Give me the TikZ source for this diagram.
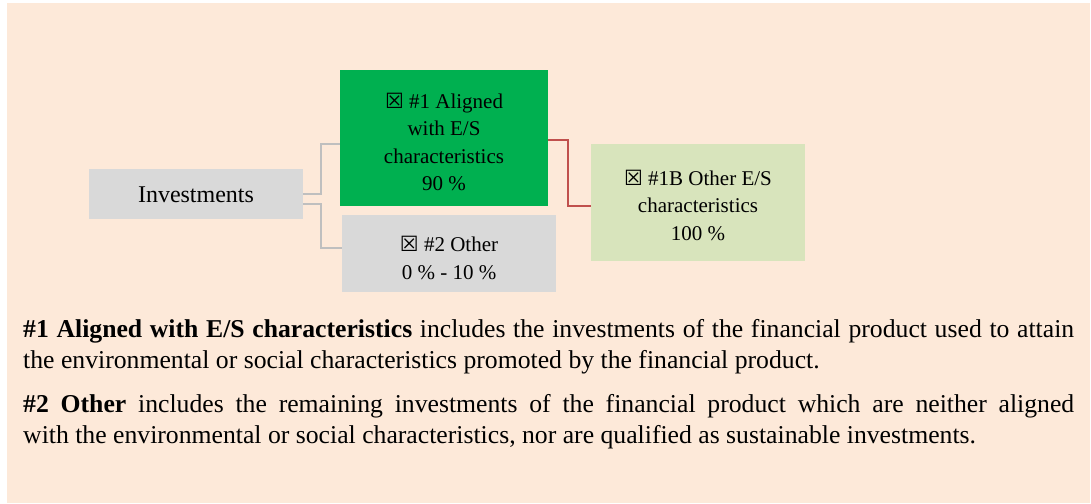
\documentclass[tikz,border=0pt]{standalone}
\usepackage{fontspec}
\setmainfont{Liberation Serif}
\newfontfamily\dvsym{DejaVu Sans}
\definecolor{peach}{HTML}{FDE9D9}
\definecolor{boxgreen}{HTML}{00B050}
\definecolor{boxlight}{HTML}{D8E4BC}
\definecolor{boxgray}{HTML}{D9D9D9}
\definecolor{linegray}{HTML}{BFBFBF}
\definecolor{linered}{HTML}{C0504D}
\newcommand{\xbox}{{\dvsym\char"2612}}
\tikzset{
  catbox/.style={inner sep=0pt, align=center, font=\fontsize{21}{27.5}\selectfont},
  treeline/.style={draw=linegray, line width=1.8pt},
  redline/.style={draw=linered, line width=1.8pt},
}
\begin{document}
\begin{tikzpicture}[x=1pt,y=-1pt]
\useasboundingbox (0,0) rectangle (1091,503);
\fill[peach] (7,3) rectangle (1090,503);
% boxes
\fill[boxgray] (89,169) rectangle (303,219);
\node[catbox, font=\fontsize{24}{28}\selectfont] (inv) at (196,195) {Investments};
\fill[boxgreen] (340,70) rectangle (548,206);
\node[catbox] (al) at (444,142) {\xbox\ \#1 Aligned\\with E/S\\characteristics\\90 \%};
\fill[boxgray] (342,215) rectangle (556,292);
\node[catbox] (ot) at (449,258) {\xbox\ \#2 Other\\0 \% - 10 \%};
\fill[boxlight] (591,144) rectangle (805,261);
\node[catbox] (es) at (698,205) {\xbox\ \#1B Other E/S\\characteristics\\100 \%};
% named anchor coordinates for connectors
\coordinate (invA) at (303,194);
\coordinate (invB) at (303,204);
\coordinate (alL) at (340,144);
\coordinate (otL) at (342,248);
\coordinate (alR) at (548,140);
\coordinate (esL) at (591,206);
\draw[treeline] (invA) -- (321,194) |- (alL);
\draw[treeline] (invB) -- (321,204) |- (otL);
\draw[redline] (alR) -- (568,140) |- (esL);
% explanatory text
\node[anchor=north west, inner sep=0pt, text width=1051pt, align=justify,
      font=\fontsize{25.7}{31}\selectfont] (txt) at (23,319)
{\hyphenpenalty=10000\exhyphenpenalty=10000
\textbf{\#1 Aligned with E/S characteristics} includes the investments of the financial product used to attain the environmental or social characteristics promoted by the financial product.\par\vspace{13pt}
\textbf{\#2 Other} includes the remaining investments of the financial product which are neither aligned\linebreak with the environmental or social characteristics, nor are qualified as sustainable investments.};
\end{tikzpicture}
\end{document}
